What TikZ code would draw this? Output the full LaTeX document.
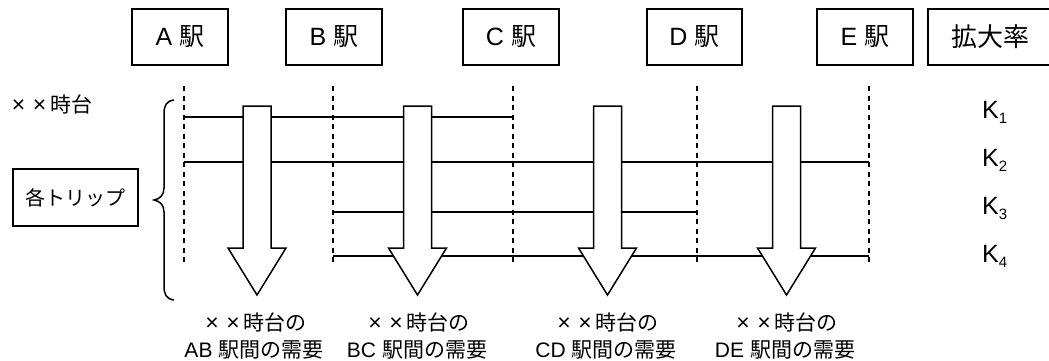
\documentclass[tikz,border=0pt]{standalone}
\usepackage{fontspec}
\setmainfont{Noto Sans CJK JP}
\newfontfamily\latinfont{Liberation Sans}
\newcommand{\xx}{\makebox[1em]{\latinfont\fontsize{23}{24}\selectfont ×}}
\newcommand{\stn}[1]{{\latinfont #1}\hspace{7pt}駅}
\begin{document}
\begin{tikzpicture}[x=1pt,y=-1pt,
  stbox/.style={draw,line width=1.5pt,minimum height=56pt,inner sep=0pt,font=\fontsize{25}{28}\selectfont},
  lbl/.style={inner sep=0pt,font=\fontsize{21}{24}\selectfont},
  klbl/.style={inner sep=0pt,anchor=base west,font=\latinfont\fontsize{25}{28}\selectfont},
  stline/.style={dashed,line width=1.5pt,dash pattern=on 5pt off 4.5pt},
  trip/.style={line width=1.5pt},
  bigarrow/.style={draw,fill=white,line width=1.5pt,line join=miter}]
\useasboundingbox (0,0) rectangle (1049,360);
\begin{scope}
\clip (0,0) rectangle (1049,360);
% station boxes
\node[stbox,minimum width=96pt] (A) at (180,37) {\stn{A}};
\node[stbox,minimum width=96pt] (B) at (334,37) {\stn{B}};
\node[stbox,minimum width=96pt] (C) at (511,37) {\stn{C}};
\node[stbox,minimum width=95pt] (D) at (694.5,37) {\stn{D}};
\node[stbox,minimum width=96pt] (E) at (865,37) {\stn{E}};
\node[draw,line width=1.5pt,minimum width=130pt,minimum height=56pt,inner sep=0pt,anchor=west] (K) at (927,37) {};
\node[inner sep=0pt,font=\fontsize{26}{28}\selectfont] (Ktxt) at (990,37) {拡大率};
% left labels
\node[lbl,anchor=west] (hour) at (8,104) {\xx\xx 時台};
\node[draw,line width=1.5pt,minimum width=125pt,minimum height=57pt,inner sep=0pt,font=\fontsize{20}{24}\selectfont] (trips) at (75.5,197.5) {各トリップ};
% brace
\draw[line width=1.5pt] (174,100) .. controls (166,101) and (164,106) .. (164,114)
  -- (164,188) .. controls (164,195) and (160,199) .. (154,200)
  .. controls (160,201) and (164,205) .. (164,212)
  -- (164,286) .. controls (164,294) and (166,299) .. (174,300);
% station dashed lines
\foreach \n/\x in {a/184,b/333,c/513,d/697,e/869}{
  \coordinate (\n t) at (\x,86);
  \coordinate (\n b) at (\x,262);
  \draw[stline] (\n t) -- (\n b);
}
% trips
\coordinate (t1s) at (184,117); \coordinate (t1e) at (513,117);
\coordinate (t2s) at (184,162); \coordinate (t2e) at (869,162);
\coordinate (t3s) at (333,212); \coordinate (t3e) at (697,212);
\coordinate (t4s) at (333,256); \coordinate (t4e) at (869,256);
\draw[trip] (t1s) -- (t1e);
\draw[trip] (t2s) -- (t2e);
\draw[trip] (t3s) -- (t3e);
\draw[trip] (t4s) -- (t4e);
% big arrows
\foreach \c in {257,417.5,607.5,786.5}{
  \draw[bigarrow] (\c-14,106) -- (\c+14,106) -- (\c+14,248) -- (\c+29,248)
    -- (\c,295) -- (\c-29,248) -- (\c-14,248) -- cycle;
}
% demand labels
\foreach \n/\c/\s in {ab/254/AB,bc/417/BC,cd/606/CD,de/785/DE}{
  \node[lbl] (\n1) at (\c,322) {\xx\xx 時台の};
  \node[lbl] (\n2) at (\c,350) {{\latinfont\s}\hspace{6pt}駅間の需要};
}
% K labels
\node[klbl] (k1) at (982,118) {K\raisebox{-5pt}{\fontsize{15}{16}\selectfont 1}};
\node[klbl] (k2) at (982,166) {K\raisebox{-5pt}{\fontsize{15}{16}\selectfont 2}};
\node[klbl] (k3) at (982,214) {K\raisebox{-5pt}{\fontsize{15}{16}\selectfont 3}};
\node[klbl] (k4) at (982,262) {K\raisebox{-5pt}{\fontsize{15}{16}\selectfont 4}};
\end{scope}
\end{tikzpicture}
\end{document}
